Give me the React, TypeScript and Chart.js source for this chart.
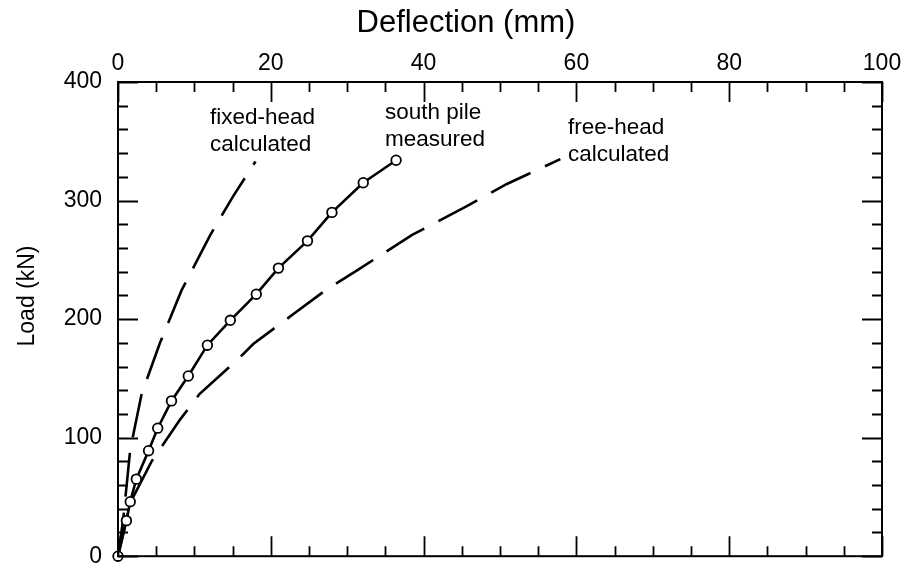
import React, { useEffect, useRef } from 'react';
import { Chart, registerables } from 'chart.js';

Chart.register(...registerables);

// ---- data ----
const measuredDeflection = [0, 1.1, 1.6, 2.4, 4.0, 5.2, 7.0, 9.2, 11.7, 14.7, 18.1, 21.0, 24.8, 28.0, 32.1, 36.4];
const measuredLoad = [0, 30, 46, 65, 89, 108, 131, 152, 178, 199, 221, 243, 266, 290, 315, 334];

const fixedHeadDeflection = [0, 0.7, 1.6, 3.1, 5.5, 8.3, 12.0, 15.1, 18.0];
const fixedHeadLoad = [0, 32, 90, 137, 180, 224, 270, 304, 333];

const freeHeadDeflection = [0, 1.6, 4.4, 8.1, 10.7, 16.0, 17.7, 22.7, 27.3, 31.5, 38.5, 45.6, 50.9, 57.9];
const freeHeadLoad = [0, 45, 80, 115, 137, 168, 179, 203, 225, 242, 271, 295, 314, 335];

const xTickValues = [0, 20, 40, 60, 80, 100];
const yTickValues = [0, 100, 200, 300, 400];

const xTitle = 'Deflection (mm)';
const yTitle = 'Load (kN)';

// annotation labels: [line1, line2], anchored in data units (deflection, load)
const annotationText = [
  ['fixed-head', 'calculated'],
  ['south pile', 'measured'],
  ['free-head', 'calculated'],
];
const annotationX = [12.05, 34.95, 58.9];
const annotationY = [364.4, 368.5, 356.1];

const FONT = '"Liberation Sans", Arial, Helvetica, sans-serif';

const toPoints = (xs: number[], ys: number[]) => xs.map((x, i) => ({ x, y: ys[i] }));

const framePlugin = {
  id: 'frameAndText',
  afterDatasetsDraw(chart: any) {
    const { ctx, chartArea, scales } = chart;
    const xs = scales.x;
    const ys = scales.y;
    const { left, right, top, bottom } = chartArea;
    ctx.save();
    ctx.strokeStyle = '#000';
    ctx.lineWidth = 2;
    ctx.strokeRect(left, top, right - left, bottom - top);

    ctx.lineWidth = 1.8;
    ctx.beginPath();
    for (let v = 0; v <= 100; v += 5) {
      const px = Math.round(xs.getPixelForValue(v)) + 0.5;
      const len = v % 20 === 0 ? 20 : 10;
      ctx.moveTo(px, top);
      ctx.lineTo(px, top + len);
      ctx.moveTo(px, bottom);
      ctx.lineTo(px, bottom - len);
    }
    for (let v = 0; v <= 400; v += 20) {
      const py = Math.round(ys.getPixelForValue(v)) + 0.5;
      const len = v % 100 === 0 ? 20 : 10;
      ctx.moveTo(left, py);
      ctx.lineTo(left + len, py);
      ctx.moveTo(right, py);
      ctx.lineTo(right - len, py);
    }
    ctx.stroke();

    // annotations
    ctx.fillStyle = '#000';
    ctx.font = `22.5px ${FONT}`;
    ctx.textAlign = 'left';
    ctx.textBaseline = 'alphabetic';
    annotationText.forEach((lines, i) => {
      const px = xs.getPixelForValue(annotationX[i]);
      const py = ys.getPixelForValue(annotationY[i]);
      lines.forEach((t, j) => ctx.fillText(t, px, py + j * 26.5));
    });

    // axis titles
    ctx.font = `31px ${FONT}`;
    ctx.textAlign = 'center';
    ctx.fillText(xTitle, 466, 32);
    ctx.save();
    ctx.translate(28, 296);
    ctx.rotate(-Math.PI / 2);
    ctx.font = `23px ${FONT}`;
    ctx.textBaseline = 'middle';
    ctx.fillText(yTitle, 0, 0);
    ctx.restore();
    ctx.restore();
  },
};

export default function App() {
  const ref = useRef<HTMLCanvasElement | null>(null);
  useEffect(() => {
    if (!ref.current) return;
    const chart = new Chart(ref.current, {
      type: 'line',
      data: {
        datasets: [
          {
            label: 'south pile measured',
            data: toPoints(measuredDeflection, measuredLoad),
            borderColor: '#000',
            borderWidth: 2.6,
            pointRadius: 4.8,
            pointBorderWidth: 1.8,
            pointBackgroundColor: '#fff',
            pointBorderColor: '#000',
            tension: 0,
            clip: false,
          },
          {
            label: 'fixed-head calculated',
            data: toPoints(fixedHeadDeflection, fixedHeadLoad),
            borderColor: '#000',
            borderWidth: 2.6,
            borderDash: [44, 16],
            pointRadius: 0,
            tension: 0,
            clip: false,
          },
          {
            label: 'free-head calculated',
            data: toPoints(freeHeadDeflection, freeHeadLoad),
            borderColor: '#000',
            borderWidth: 2.6,
            borderDash: [44, 16],
            pointRadius: 0,
            tension: 0,
            clip: false,
          },
        ],
      },
      options: {
        animation: false,
        responsive: false,
        devicePixelRatio: 1,
        layout: { padding: { left: 0, top: 0, right: 27, bottom: 21 } },
        plugins: { legend: { display: false }, tooltip: { enabled: false } },
        scales: {
          x: {
            type: 'linear',
            position: 'top',
            min: 0,
            max: 100,
            afterBuildTicks: (s: any) => {
              s.ticks = xTickValues.map((v) => ({ value: v }));
            },
            ticks: {
              color: '#000',
              font: { family: FONT, size: 23 },
              padding: 5,
              maxRotation: 0,
              autoSkip: false,
            },
            grid: { display: false, drawTicks: false },
            border: { display: false },
            afterFit: (s: any) => {
              s.height = 82;
            },
          },
          y: {
            type: 'linear',
            position: 'left',
            min: 0,
            max: 400,
            afterBuildTicks: (s: any) => {
              s.ticks = yTickValues.map((v) => ({ value: v }));
            },
            ticks: {
              color: '#000',
              font: { family: FONT, size: 23 },
              padding: 16,
              autoSkip: false,
            },
            grid: { display: false, drawTicks: false },
            border: { display: false },
            afterFit: (s: any) => {
              s.width = 118;
            },
          },
        },
      },
      plugins: [framePlugin],
    } as any);
    return () => chart.destroy();
  }, []);
  return (
    <div style={{ position: 'absolute', left: 0, top: 0, width: 909, height: 586, background: '#fff' }}>
      <canvas ref={ref} width={909} height={586} style={{ display: 'block' }} />
    </div>
  );
}
